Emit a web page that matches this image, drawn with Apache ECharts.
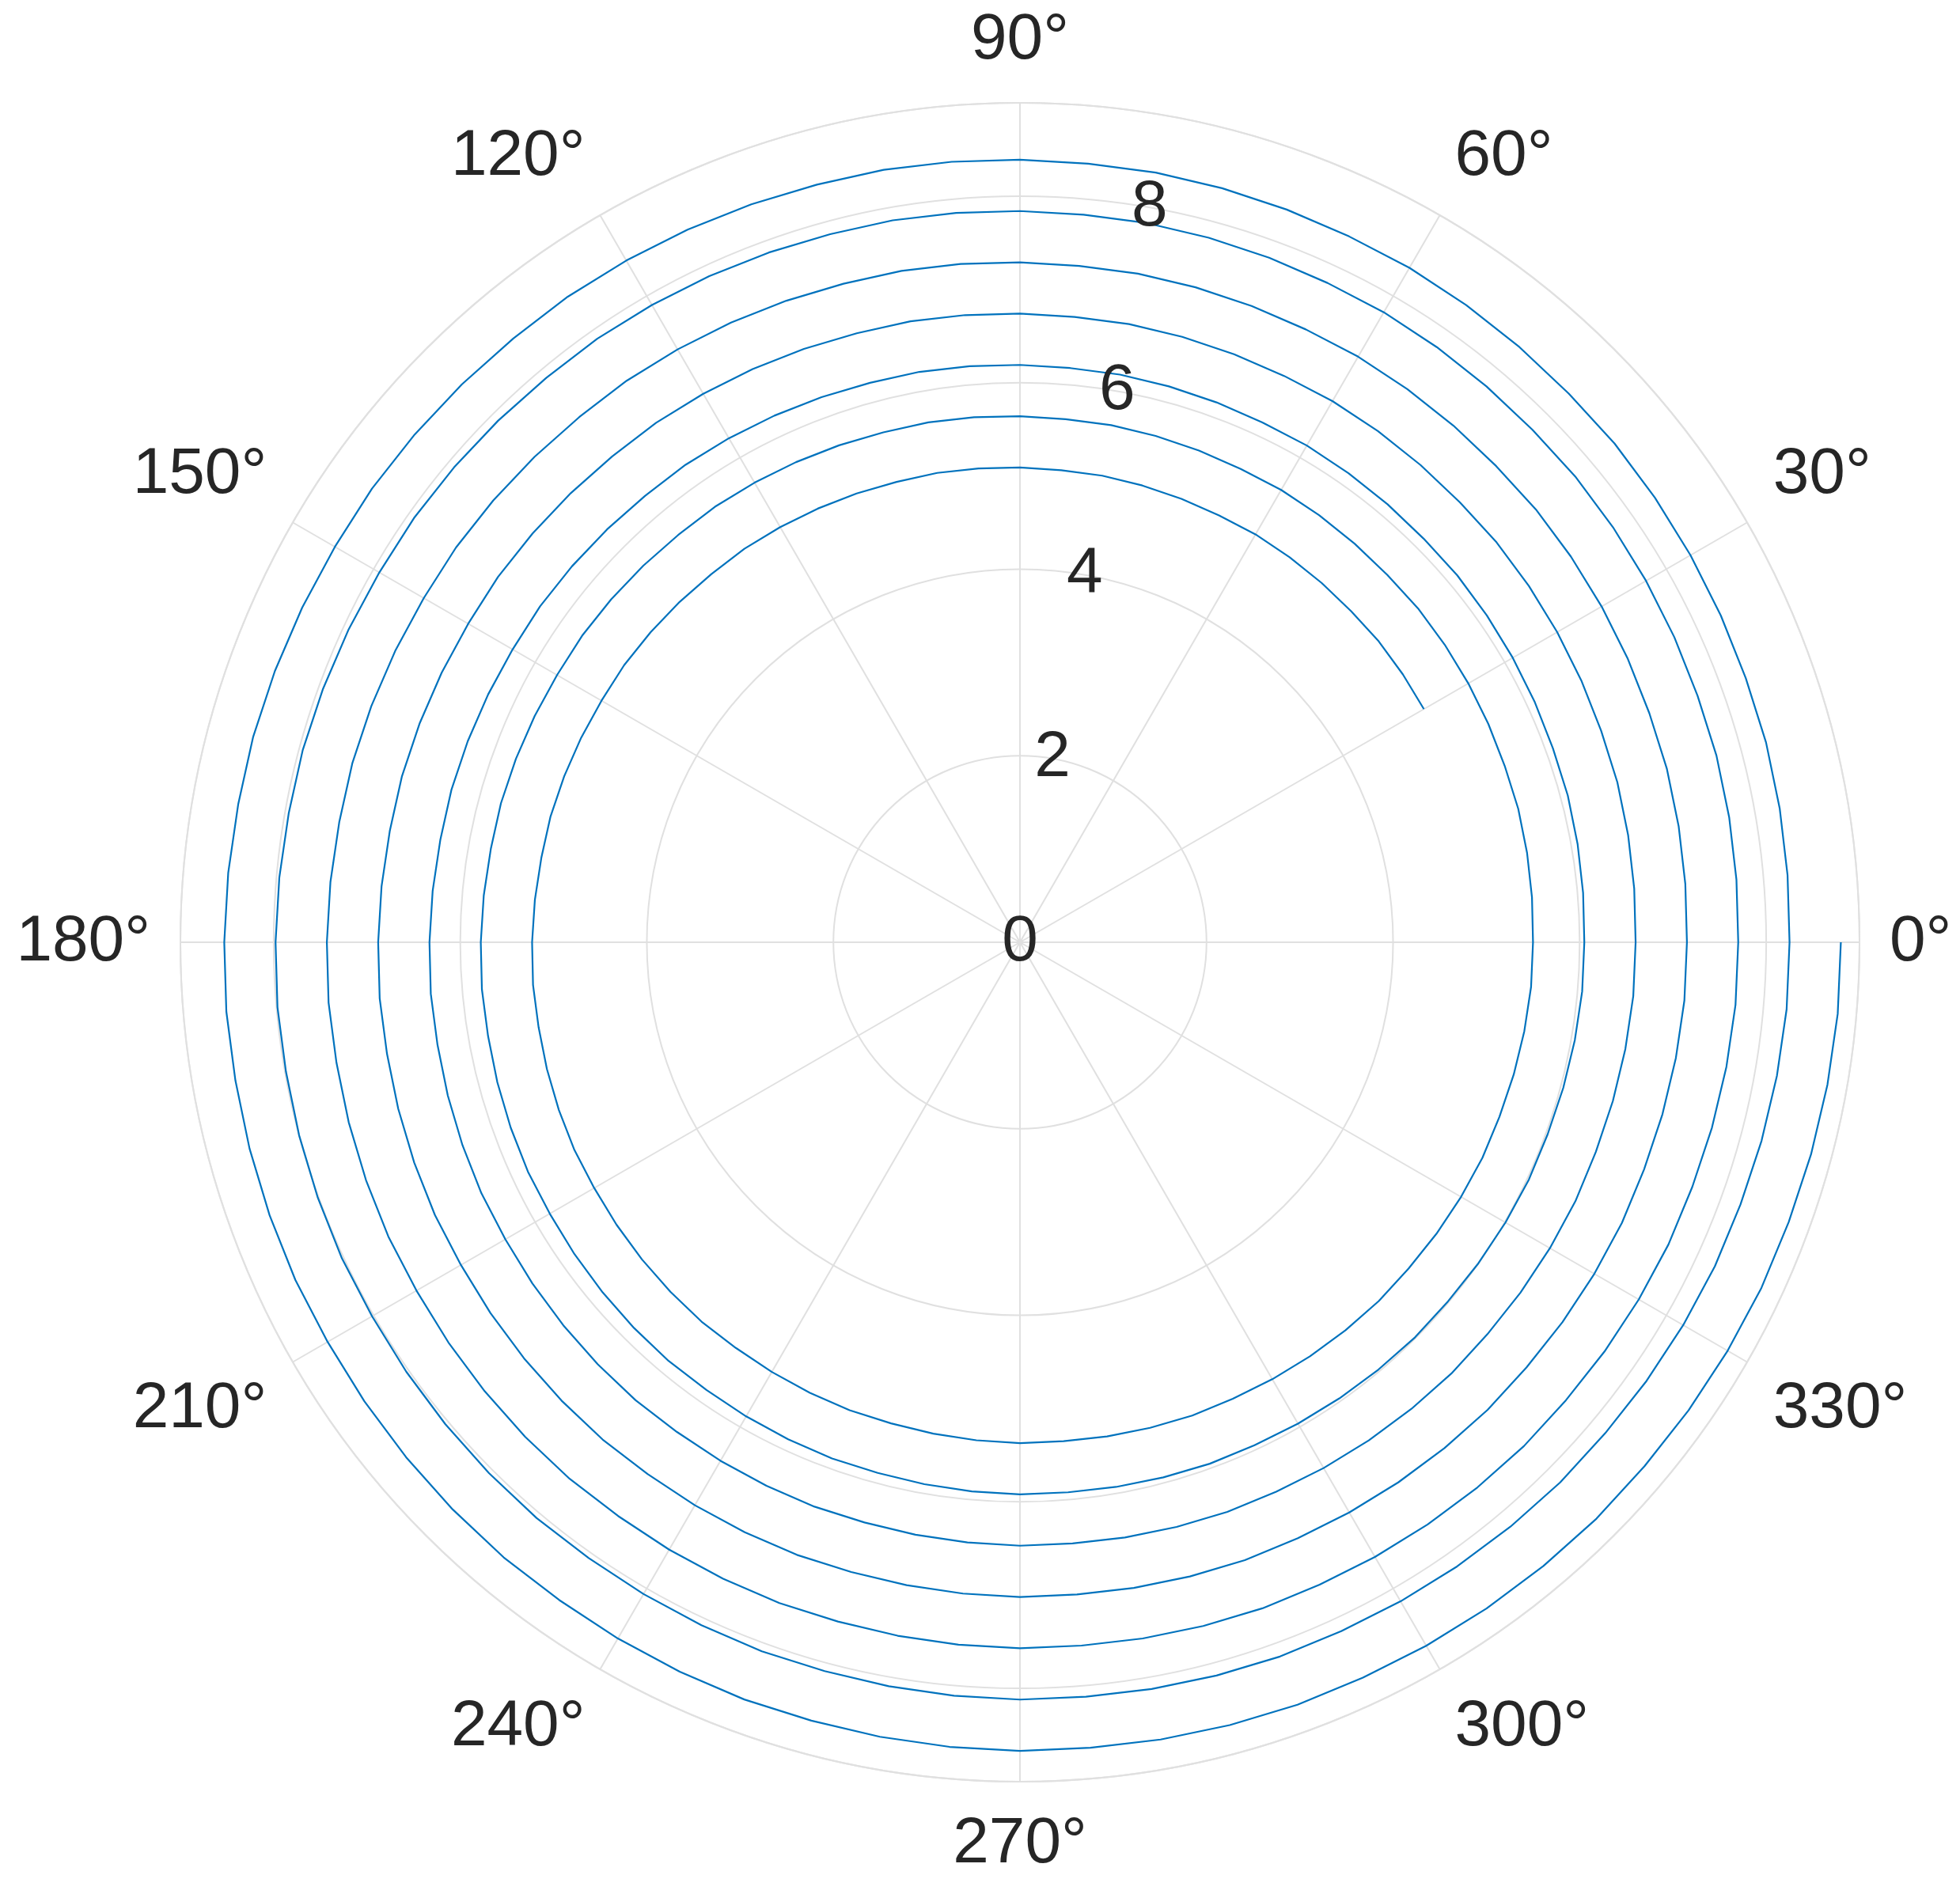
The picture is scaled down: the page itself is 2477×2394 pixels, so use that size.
<!DOCTYPE html>
<html>
<head>
<meta charset="utf-8">
<script src="https://cdn.jsdelivr.net/npm/echarts@6/dist/echarts.min.js"></script>
<style>
  html, body { margin: 0; padding: 0; background: #fff; }
  #chart { width: 2477px; height: 2394px; }
</style>
</head>
<body>
<div id="chart"></div>
<script>
// angle (deg) of each sample within one turn
const angles = [
  0, 5, 10, 15, 20, 25, 30, 35, 40, 45, 50, 55, 60, 65, 70, 75, 80, 85,
  90, 95, 100, 105, 110, 115, 120, 125, 130, 135, 140, 145, 150, 155, 160, 165, 170, 175,
  180, 185, 190, 195, 200, 205, 210, 215, 220, 225, 230, 235, 240, 245, 250, 255, 260, 265,
  270, 275, 280, 285, 290, 295, 300, 305, 310, 315, 320, 325, 330, 335, 340, 345, 350, 355];

const turn0 = [
  5.00, 5.01, 5.02, 5.02, 5.03, 5.04, 5.05, 5.05, 5.06, 5.07, 5.08, 5.08,
  5.09, 5.10, 5.11, 5.11, 5.12, 5.13, 5.14, 5.15, 5.15, 5.16, 5.17, 5.18, 5.18, 5.19, 5.20, 5.21, 5.21, 5.22,
  5.23, 5.24, 5.24, 5.25, 5.26, 5.27, 5.27, 5.28, 5.29, 5.30, 5.31, 5.31, 5.32, 5.33, 5.34, 5.34, 5.35, 5.36,
  5.37, 5.37, 5.38, 5.39, 5.40, 5.40, 5.41, 5.42, 5.43, 5.44, 5.44, 5.45, 5.46, 5.47, 5.47, 5.48, 5.49, 5.50];
const turn1 = [
  5.50, 5.51, 5.52, 5.53, 5.53, 5.54, 5.55, 5.56, 5.57, 5.57, 5.58, 5.59, 5.60, 5.60, 5.61, 5.62, 5.63, 5.63,
  5.64, 5.65, 5.66, 5.66, 5.67, 5.68, 5.69, 5.70, 5.70, 5.71, 5.72, 5.73, 5.73, 5.74, 5.75, 5.76, 5.76, 5.77,
  5.78, 5.79, 5.79, 5.80, 5.81, 5.82, 5.82, 5.83, 5.84, 5.85, 5.86, 5.86, 5.87, 5.88, 5.89, 5.89, 5.90, 5.91,
  5.92, 5.92, 5.93, 5.94, 5.95, 5.95, 5.96, 5.97, 5.98, 5.99, 5.99, 6.00, 6.01, 6.02, 6.02, 6.03, 6.04, 6.05];
const turn2 = [
  6.05, 6.06, 6.07, 6.08, 6.08, 6.09, 6.10, 6.11, 6.12, 6.12, 6.13, 6.14, 6.15, 6.15, 6.16, 6.17, 6.18, 6.18,
  6.19, 6.20, 6.21, 6.21, 6.22, 6.23, 6.24, 6.25, 6.25, 6.26, 6.27, 6.28, 6.28, 6.29, 6.30, 6.31, 6.31, 6.32,
  6.33, 6.34, 6.34, 6.35, 6.36, 6.37, 6.37, 6.38, 6.39, 6.40, 6.41, 6.41, 6.42, 6.43, 6.44, 6.44, 6.45, 6.46,
  6.47, 6.47, 6.48, 6.49, 6.50, 6.50, 6.51, 6.52, 6.53, 6.54, 6.54, 6.55, 6.56, 6.57, 6.57, 6.58, 6.59, 6.60];
const turn3 = [
  6.60, 6.61, 6.62, 6.63, 6.63, 6.64, 6.65, 6.66, 6.67, 6.67, 6.68, 6.69, 6.70, 6.70, 6.71, 6.72, 6.73, 6.73,
  6.74, 6.75, 6.76, 6.76, 6.77, 6.78, 6.79, 6.80, 6.80, 6.81, 6.82, 6.83, 6.83, 6.84, 6.85, 6.86, 6.86, 6.87,
  6.88, 6.89, 6.89, 6.90, 6.91, 6.92, 6.92, 6.93, 6.94, 6.95, 6.96, 6.96, 6.97, 6.98, 6.99, 6.99, 7.00, 7.01,
  7.02, 7.02, 7.03, 7.04, 7.05, 7.05, 7.06, 7.07, 7.08, 7.09, 7.09, 7.10, 7.11, 7.12, 7.12, 7.13, 7.14, 7.15];
const turn4 = [
  7.15, 7.16, 7.17, 7.18, 7.18, 7.19, 7.20, 7.21, 7.22, 7.22, 7.23, 7.24, 7.25, 7.25, 7.26, 7.27, 7.28, 7.28,
  7.29, 7.30, 7.31, 7.31, 7.32, 7.33, 7.34, 7.35, 7.35, 7.36, 7.37, 7.38, 7.38, 7.39, 7.40, 7.41, 7.41, 7.42,
  7.43, 7.44, 7.44, 7.45, 7.46, 7.47, 7.47, 7.48, 7.49, 7.50, 7.51, 7.51, 7.52, 7.53, 7.54, 7.54, 7.55, 7.56,
  7.57, 7.57, 7.58, 7.59, 7.60, 7.60, 7.61, 7.62, 7.63, 7.64, 7.64, 7.65, 7.66, 7.67, 7.67, 7.68, 7.69, 7.70];
const turn5 = [
  7.70, 7.71, 7.72, 7.73, 7.73, 7.74, 7.75, 7.76, 7.77, 7.77, 7.78, 7.79, 7.80, 7.80, 7.81, 7.82, 7.83, 7.83,
  7.84, 7.85, 7.86, 7.86, 7.87, 7.88, 7.89, 7.90, 7.90, 7.91, 7.92, 7.93, 7.93, 7.94, 7.95, 7.96, 7.96, 7.97,
  7.98, 7.99, 7.99, 8.00, 8.01, 8.02, 8.02, 8.03, 8.04, 8.05, 8.06, 8.06, 8.07, 8.08, 8.09, 8.09, 8.10, 8.11,
  8.12, 8.12, 8.13, 8.14, 8.15, 8.15, 8.16, 8.17, 8.18, 8.19, 8.19, 8.20, 8.21, 8.22, 8.22, 8.23, 8.24, 8.25];
const turn6 = [
  8.25, 8.26, 8.27, 8.28, 8.28, 8.29, 8.30, 8.31, 8.32, 8.32, 8.33, 8.34, 8.35, 8.35, 8.36, 8.37, 8.38, 8.38,
  8.39, 8.40, 8.41, 8.41, 8.42, 8.43, 8.44, 8.45, 8.45, 8.46, 8.47, 8.48, 8.48, 8.49, 8.50, 8.51, 8.51, 8.52,
  8.53, 8.54, 8.54, 8.55, 8.56, 8.57, 8.57, 8.58, 8.59, 8.60, 8.61, 8.61, 8.62, 8.63, 8.64, 8.64, 8.65, 8.66,
  8.67, 8.67, 8.68, 8.69, 8.70, 8.70, 8.71, 8.72, 8.73, 8.74, 8.74, 8.75, 8.76, 8.77, 8.77, 8.78, 8.79, 8.80];
const endRadius = 8.80;

const radiusTicks = [0, 2, 4, 6, 8];
const rMax = 9;

const gridColor = '#e0e0e0';
const textColor = '#262626';
const lineColor = '#0072BD';
const center = [1289, 1191];
const outerRadius = 1061;

const spiral = [];
angles.slice(6).forEach((a, i) => spiral.push([turn0[i], a]));
[turn1, turn2, turn3, turn4, turn5, turn6].forEach(turn => {
  turn.forEach((r, i) => spiral.push([r, angles[i]]));
});
spiral.push([endRadius, 0]);

const chart = echarts.init(document.getElementById('chart'));
chart.setOption({
  backgroundColor: '#ffffff',
  animation: false,
  textStyle: { fontFamily: '"Liberation Sans", Arial, sans-serif' },
  polar: [
    { center: center, radius: outerRadius },
    { center: center, radius: outerRadius }
  ],
  angleAxis: [
    {
      polarIndex: 0,
      type: 'value',
      min: 0,
      max: 360,
      interval: 30,
      startAngle: 0,
      clockwise: false,
      axisLine: { show: true, lineStyle: { color: gridColor, width: 2 } },
      axisTick: { show: false },
      axisLabel: {
        margin: 38,
        fontSize: 82,
        color: textColor,
        formatter: v => (v === 360 ? '' : v + '°')
      },
      splitLine: { show: true, lineStyle: { color: gridColor, width: 2 } }
    },
    {
      polarIndex: 1,
      type: 'value',
      min: 0,
      max: 360,
      startAngle: 80,
      clockwise: false,
      show: false
    }
  ],
  radiusAxis: [
    {
      polarIndex: 0,
      type: 'value',
      min: 0,
      max: rMax,
      interval: 2,
      axisLine: { show: false },
      axisTick: { show: false },
      axisLabel: { show: false },
      splitLine: { show: true, lineStyle: { color: gridColor, width: 2 } }
    },
    {
      polarIndex: 1,
      type: 'value',
      min: 0,
      max: rMax,
      interval: 2,
      z: 5,
      axisLine: { show: false },
      axisTick: { show: false },
      splitLine: { show: false },
      axisLabel: {
        margin: 0,
        fontSize: 82,
        color: textColor,
        align: 'center',
        verticalAlign: 'middle',
        padding: [14, 0, 0, 0],
        showMinLabel: true,
        formatter: v => (radiusTicks.indexOf(v) >= 0 ? String(v) : '')
      }
    }
  ],
  series: [{
    type: 'line',
    coordinateSystem: 'polar',
    polarIndex: 0,
    data: spiral,
    showSymbol: false,
    smooth: false,
    lineStyle: { color: lineColor, width: 2.2 },
    z: 2
  }]
});
</script>
</body>
</html>
